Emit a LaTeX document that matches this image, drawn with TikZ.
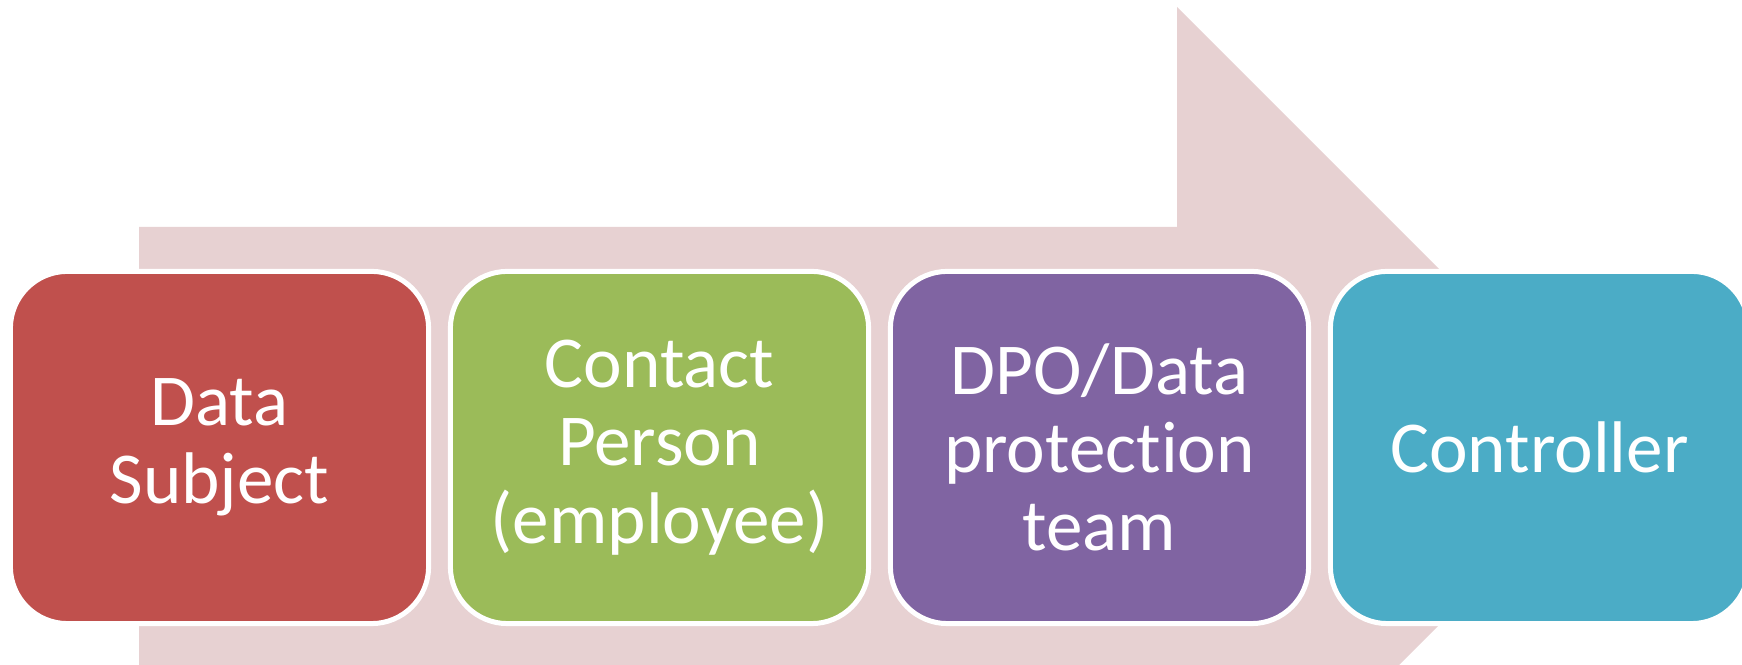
\documentclass[tikz,border=0pt]{standalone}
\usepackage{tikz}
\usepackage{xcolor}
\usepackage{fontspec}
\setmainfont{Carlito}[Ligatures=NoCommon]

\definecolor{arrowpink}{RGB}{231,209,210}
\definecolor{subjred}{RGB}{192,80,77}
\definecolor{contgreen}{RGB}{155,187,89}
\definecolor{dpopurple}{RGB}{128,100,162}
\definecolor{ctrlblue}{RGB}{75,172,198}

\begin{document}
\begin{tikzpicture}[x=0.01cm,y=-0.01cm,
    stage/.style={draw=white,line width=0.05cm,rounded corners=0.57cm,
      minimum width=4.18cm,minimum height=3.52cm,inner sep=0pt,
      text=white,align=center,font=\fontsize{20.8}{22.2}\selectfont}]
          \path[use as bounding box,clip] (0,0) rectangle (1742,665);

          % big background arrow
          \fill[arrowpink] (139,227)--(1177,227)--(1177,7)--(1617,447)
            --(1177,887)--(1177,667)--(139,667)--cycle;

          \node[stage,fill=subjred] (ds) at (219.5,447.5) {Data\\Subject};
          \node[stage,fill=contgreen] (cp) at (659.5,447.5) {Contact\\Person\\(employee)};
          \node[stage,fill=dpopurple] (dpo) at (1099.5,447.5) {DPO/Data\\protection\\team};
          \node[stage,fill=ctrlblue] (ctrl) at (1539.5,447.5) {Controller};
        \end{tikzpicture}
\end{document}
